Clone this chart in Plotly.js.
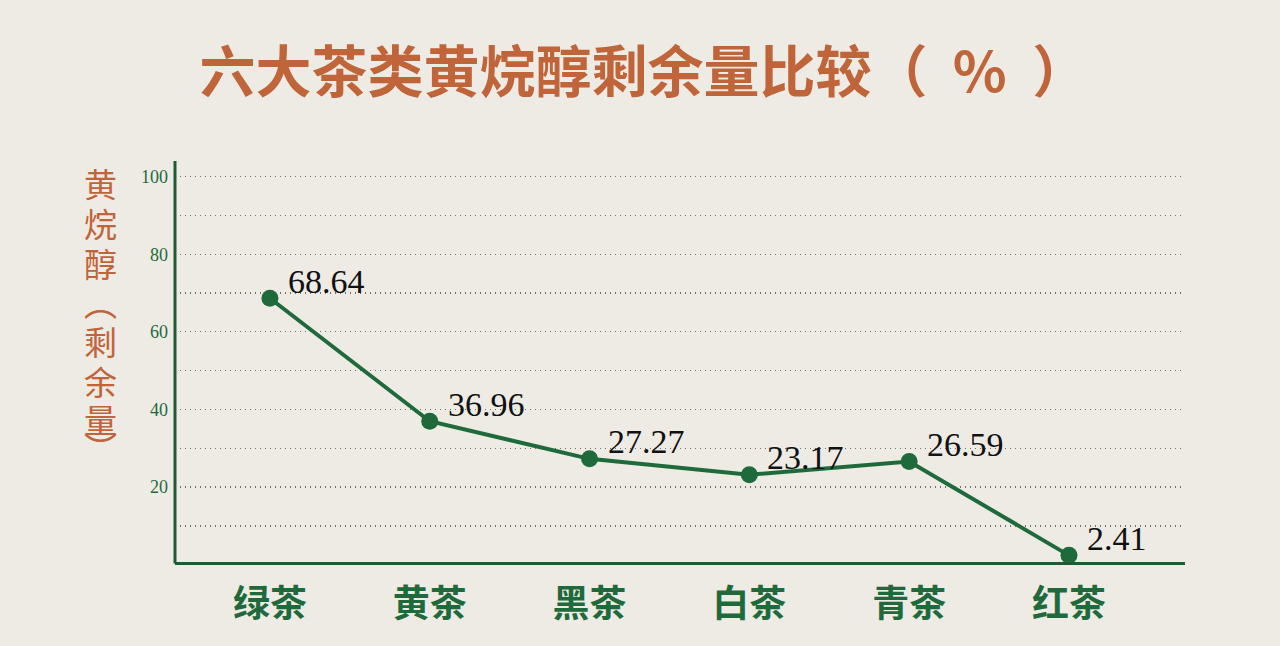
<!DOCTYPE html>
<html>
<head>
<meta charset="utf-8">
<script src="https://cdn.plot.ly/plotly-3.0.1.min.js"></script>
<style>
html,body{margin:0;padding:0;background:#eeebe5;}
#chart{width:1280px;height:646px;}
</style>
</head>
<body>
<div id="chart"></div>
<script>
// Data
const categories = ['绿茶', '黄茶', '黑茶', '白茶', '青茶', '红茶'];
const values = [68.64, 36.96, 27.27, 23.17, 26.59, 2.41];
const valueLabels = ['68.64', '36.96', '27.27', '23.17', '26.59', '2.41'];
const yTickVals = [10, 20, 30, 40, 50, 60, 70, 80, 90, 100];
const yTickText = ['', '20', '', '40', '', '60', '', '80', '', '100'];
const titleText = '六大茶类黄烷醇剩余量比较（ \u00a0% \u00a0）';
const yTitleChars = ['黄', '烷', '醇', '︵', '剩', '余', '量', '︶'];

const green = '#1f6a3b';
const axisGreen = '#1f5a33';
const orange = '#c0643a';

const trace = {
  type: 'scatter',
  mode: 'lines+markers',
  x: categories,
  y: values,
  line: {color: green, width: 4},
  marker: {color: green, size: 17},
  hoverinfo: 'skip'
};

const annotations = categories.map((c, i) => ({
  x: c, y: values[i], xref: 'x', yref: 'y',
  text: valueLabels[i], showarrow: false,
  xanchor: 'left', yanchor: 'middle', xshift: 16, yshift: 17,
  font: {family: 'Liberation Serif, serif', size: 34, color: '#111111'}
}));

// vertical y-axis title, one character per line (pixel rows of the plot area: top 175, bottom 562)
const yTitleRows = [183, 223, 263, 302, 341, 381, 419, 447];
yTitleChars.forEach((ch, i) => {
  annotations.push({
    xref: 'paper', yref: 'paper', x: -0.074, y: (562 - yTitleRows[i]) / 387,
    xanchor: 'center', yanchor: 'middle', showarrow: false,
    text: ch,
    font: {family: 'Noto Sans CJK SC, sans-serif', size: 33, color: orange}
  });
});

const layout = {
  width: 1280, height: 646,
  paper_bgcolor: '#eeebe5',
  plot_bgcolor: 'rgba(0,0,0,0)',
  margin: {l: 175, r: 95, t: 175, b: 84},
  showlegend: false,
  title: {
    text: '<b>' + titleText + '</b>',
    x: 0.503, xanchor: 'center', y: 0.888, yanchor: 'middle',
    font: {family: 'Noto Sans CJK SC, sans-serif', size: 56, color: orange}
  },
  xaxis: {
    type: 'category',
    range: [-0.594, 5.726],
    showgrid: false, zeroline: false,
    showline: true, linecolor: axisGreen, linewidth: 3,
    ticks: '', ticklabelstandoff: 8,
    tickfont: {family: 'Noto Sans CJK SC, sans-serif', size: 37, color: green, weight: 'bold'}
  },
  yaxis: {
    range: [0.7, 100.4],
    tickmode: 'array', tickvals: yTickVals, ticktext: yTickText,
    showgrid: true, gridcolor: '#6f6d66', gridwidth: 1.3, griddash: '1px,4px',
    zeroline: false, showline: false, ticks: '', ticklabelstandoff: 6,
    tickfont: {family: 'Liberation Serif, serif', size: 18, color: green}
  },
  shapes: [{
    type: 'line', xref: 'paper', yref: 'paper',
    x0: 0, x1: 0, y0: -0.004, y1: 1.036,
    line: {color: axisGreen, width: 3}
  }],
  annotations: annotations
};

Plotly.newPlot('chart', [trace], layout, {displayModeBar: false, staticPlot: true});
</script>
</body>
</html>
